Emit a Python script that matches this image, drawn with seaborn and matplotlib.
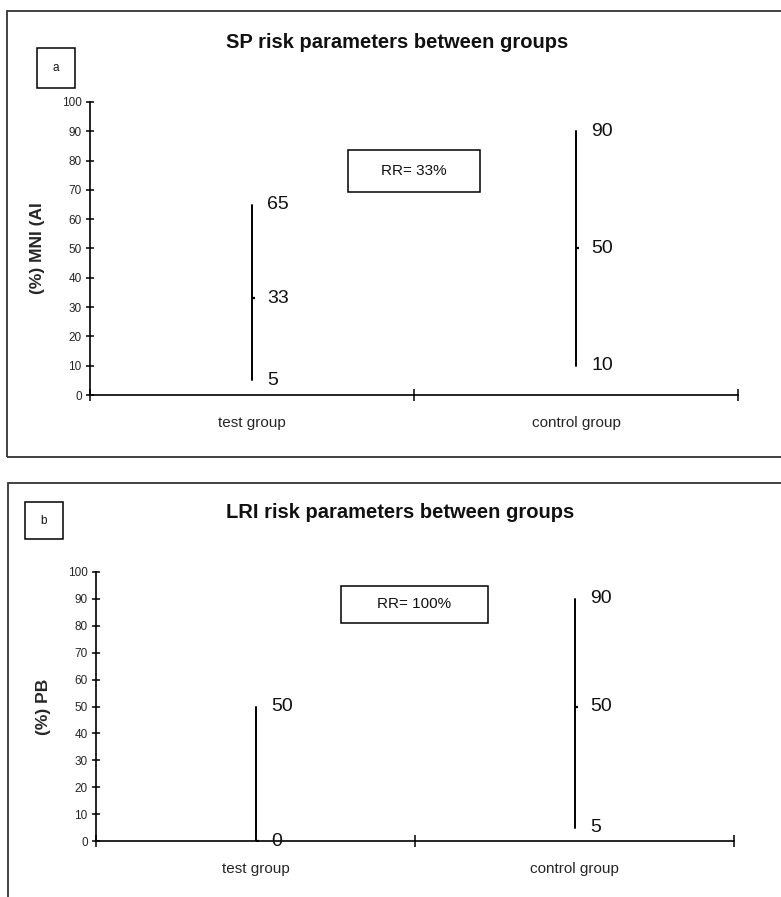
import numpy as np
import pandas as pd
import matplotlib
matplotlib.use("Agg")
import matplotlib.pyplot as plt
from matplotlib.patches import Rectangle
import seaborn as sns

sns.set_style("white")
plt.rcParams["font.family"] = ["Liberation Sans", "DejaVu Sans"]

# ---------------------------------------------------------------------------
# data (low / mean / high per group)
# ---------------------------------------------------------------------------
groups = ["test group", "control group"]

sp_low = [5, 10]
sp_mean = [33, 50]
sp_high = [65, 90]

lri_low = [0, 5]
lri_mean = [0, 50]
lri_high = [50, 90]

yticks = list(range(0, 101, 10))

W, H = 781, 897
fig = plt.figure(figsize=(W / 100, H / 100), dpi=100)


def fx(px):
    return px / W


def fy(py):
    return 1 - py / H


def long_table(low, mean, high):
    rows = []
    for g, lo, me, hi in zip(groups, low, mean, high):
        for v in (lo, me, hi):
            rows.append({"group": g, "value": v})
    return pd.DataFrame(rows)


# marker: short horizontal dash to the right of the line
dash = [(0, 0), (1, 0)]


def box(x0, y0, x1, y1, text, size):
    fig.patches.append(Rectangle((fx(x0), fy(y1)), fx(x1) - fx(x0),
                                 fy(y0) - fy(y1), transform=fig.transFigure,
                                 fill=False, edgecolor="black", lw=1.1))
    fig.text(fx((x0 + x1) / 2), fy((y0 + y1) / 2), text, ha="center",
             va="center", fontsize=size, color="#111111")


def draw_panel(ax, low, mean, high, ylabel):
    df = long_table(low, mean, high)
    sns.pointplot(data=df, x="group", y="value", order=groups,
                  estimator="median", errorbar=("pi", 100),
                  linestyle="none", marker=dash, markersize=5,
                  markeredgewidth=1.6, color="black",
                  err_kws={"linewidth": 1.4}, ax=ax)
    ax.set_xlim(-0.5, 1.5)
    ax.set_ylim(0, 100)

    for i in range(len(groups)):
        for v in sorted({high[i], mean[i], low[i]}):
            ax.annotate(str(v), (i, v), xytext=(11, 0),
                        textcoords="offset points", va="center", ha="left",
                        fontsize=14, color="#111111")

    for s in ("top", "right"):
        ax.spines[s].set_visible(False)
    for s in ("left", "bottom"):
        ax.spines[s].set_linewidth(1.2)
        ax.spines[s].set_color("black")

    ax.set_yticks(yticks)
    ax.set_yticklabels([str(t) for t in yticks], fontsize=8.5)
    ax.tick_params(axis="y", direction="inout", length=6, width=1.1,
                   pad=3, left=True, color="black")
    ax.set_xticks([0, 1])
    ax.set_xticklabels(groups, fontsize=11)
    ax.tick_params(axis="x", length=0, pad=15)
    ax.set_xticks([-0.5, 0.5, 1.5], minor=True)
    ax.tick_params(axis="x", which="minor", direction="inout", length=8,
                   width=1.1, bottom=True, color="black")
    ax.set_xlabel("")
    ax.set_ylabel(ylabel, fontsize=12.5, fontweight="bold", labelpad=12)


# panel frames
fig.patches.append(Rectangle((fx(7), fy(457)), fx(800) - fx(7), fy(11) - fy(457),
                             transform=fig.transFigure, fill=False,
                             edgecolor="#333333", lw=1.3))
fig.patches.append(Rectangle((fx(8), fy(920)), fx(800) - fx(8), fy(483) - fy(920),
                             transform=fig.transFigure, fill=False,
                             edgecolor="#333333", lw=1.3))

# ---------------------------------------------------------------------------
# panel a
# ---------------------------------------------------------------------------
ax_a = fig.add_axes([fx(90), fy(395), fx(738) - fx(90), fy(102) - fy(395)])
draw_panel(ax_a, sp_low, sp_mean, sp_high, "(%) MNI (AI")
box(348, 150, 480, 192, "RR= 33%", 11)
box(37, 48, 75, 88, "a", 8.5)
fig.text(fx(397), fy(42), "SP risk parameters between groups", ha="center",
         va="center", fontsize=14.5, fontweight="bold", color="#111111")

# ---------------------------------------------------------------------------
# panel b
# ---------------------------------------------------------------------------
ax_b = fig.add_axes([fx(96), fy(841), fx(734) - fx(96), fy(572) - fy(841)])
draw_panel(ax_b, lri_low, lri_mean, lri_high, "(%) PB")
box(341, 586, 488, 623, "RR= 100%", 11)
box(25, 502, 63, 539, "b", 8.5)
fig.text(fx(400), fy(512), "LRI risk parameters between groups", ha="center",
         va="center", fontsize=14.5, fontweight="bold", color="#111111")

fig.savefig("out.png", dpi=100)
